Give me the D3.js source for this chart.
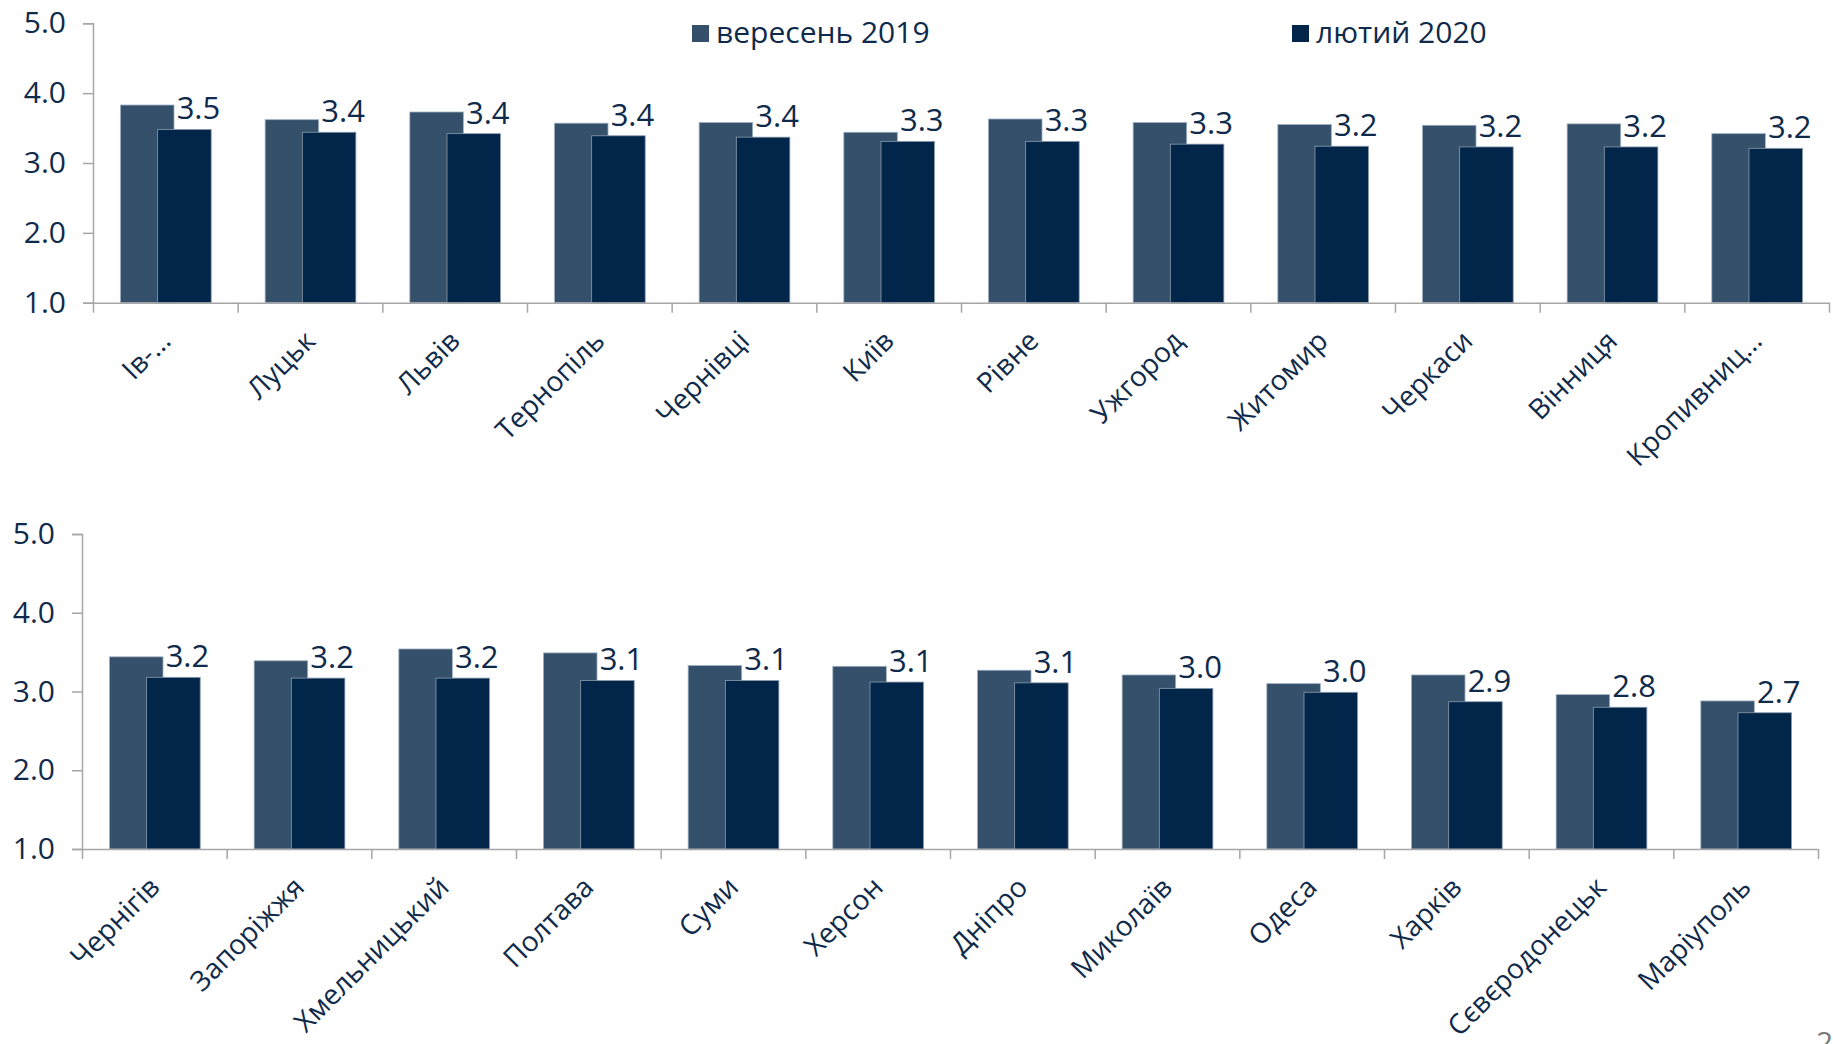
<!DOCTYPE html>
<html>
<head>
<meta charset="utf-8">
<script src="https://cdn.jsdelivr.net/npm/d3@7"></script>
<style>
  html, body { margin: 0; padding: 0; background: #ffffff; }
  svg { display: block; font-family: "Open Sans", "Noto Sans", Arial, sans-serif; }
</style>
</head>
<body>
<svg id="chart" width="1833" height="1044"></svg>
<script>
// ---------- data ----------
const seriesNames = ["вересень 2019", "лютий 2020"];
const yTickValues = [1, 2, 3, 4, 5];

const categoriesTop = ["Ів-…", "Луцьк", "Львів", "Тернопіль", "Чернівці", "Київ", "Рівне", "Ужгород", "Житомир", "Черкаси", "Вінниця", "Кропивниц…"];
const sep2019Top = [3.83, 3.62, 3.73, 3.57, 3.58, 3.44, 3.63, 3.58, 3.55, 3.54, 3.56, 3.42];
const feb2020Top = [3.48, 3.44, 3.42, 3.39, 3.37, 3.31, 3.31, 3.27, 3.24, 3.23, 3.23, 3.21];

const categoriesBottom = ["Чернігів", "Запоріжжя", "Хмельницький", "Полтава", "Суми", "Херсон", "Дніпро", "Миколаїв", "Одеса", "Харків", "Сєвєродонецьк", "Маріуполь"];
const sep2019Bottom = [3.44, 3.39, 3.54, 3.49, 3.33, 3.32, 3.27, 3.21, 3.10, 3.21, 2.96, 2.88];
const feb2020Bottom = [3.18, 3.17, 3.17, 3.14, 3.14, 3.12, 3.11, 3.04, 2.99, 2.87, 2.80, 2.73];

// ---------- style ----------
const colLight = "#34506b";
const colDark = "#01264a";
const textCol = "#0f2a4b";
const axisCol = "#a6a6a6";
const fmt = d3.format(".1f");

const svg = d3.select("#chart");
svg.append("rect").attr("width", 1833).attr("height", 1044).attr("fill", "#fff");

function drawPanel(cfg) {
  const { cats, a, b, x0, x1, yTop, yBot } = cfg;
  const x = d3.scaleBand().domain(cats).range([x0, x1]).paddingInner(0).paddingOuter(0);
  const y = d3.scaleLinear().domain([1, 5]).range([yBot, yTop]);
  const bw = x.bandwidth();
  const g = svg.append("g");

  // bars
  const rows = cats.map((c, i) => ({ c, a: a[i], b: b[i] }));
  g.selectAll("rect.la").data(rows).join("rect")
    .attr("x", d => x(d.c) + bw * 0.19)
    .attr("width", bw * 0.37)
    .attr("y", d => y(d.a))
    .attr("height", d => y(1) - y(d.a))
    .attr("fill", colLight)
    .attr("stroke", "#9fb0c2").attr("stroke-width", 0.8);
  g.selectAll("rect.db").data(rows).join("rect")
    .attr("x", d => x(d.c) + bw * 0.447)
    .attr("width", bw * 0.37)
    .attr("y", d => y(d.b))
    .attr("height", d => y(1) - y(d.b))
    .attr("fill", colDark)
    .attr("stroke", "#8d9cae").attr("stroke-width", 0.8);

  // data labels
  g.selectAll("text.lbl").data(rows).join("text")
    .attr("x", d => x(d.c) + bw * 0.447 + bw * 0.185 + 14)
    .attr("y", d => y(d.b) - 10)
    .attr("text-anchor", "middle")
    .attr("font-size", 31)
    .attr("fill", textCol)
    .text(d => fmt(d.b));

  // y axis
  const ya = g.append("g").attr("transform", `translate(${x0},0)`)
    .call(d3.axisLeft(y).tickValues(yTickValues).tickFormat(fmt).tickSize(10).tickPadding(17));
  ya.selectAll("path, line").attr("stroke", axisCol).attr("stroke-width", 1.5);
  ya.selectAll("text").attr("font-size", 30).attr("fill", textCol)
    .attr("font-family", "'Open Sans', 'Noto Sans', Arial, sans-serif");

  // x axis: baseline and boundary ticks
  const bounds = cats.map(c => x(c)).concat([x.range()[1]]);
  const edge = d3.scaleLinear().domain([x0, x1]).range([x0, x1]);
  const xa = g.append("g").attr("transform", `translate(0,${y(1)})`)
    .call(d3.axisBottom(edge).tickValues(bounds).tickSize(10).tickSizeOuter(0).tickFormat(""));
  xa.selectAll("path, line").attr("stroke", axisCol).attr("stroke-width", 1.5);

  // category labels
  g.selectAll("text.cat").data(cats).join("text")
    .attr("transform", c => `translate(${x(c) + bw / 2 + 7},${y(1) + 40}) rotate(-45)`)
    .attr("text-anchor", "end")
    .attr("font-size", 28)
    .attr("fill", textCol)
    .text(c => c);
}

drawPanel({ cats: categoriesTop, a: sep2019Top, b: feb2020Top, x0: 93, x1: 1829, yTop: 23.3, yBot: 302.7 });
drawPanel({ cats: categoriesBottom, a: sep2019Bottom, b: feb2020Bottom, x0: 82, x1: 1818, yTop: 534, yBot: 849 });

// legend
const legendX = [692, 1292];
const legendColors = [colLight, colDark];
const lg = svg.append("g");
seriesNames.forEach((name, i) => {
  lg.append("rect").attr("x", legendX[i]).attr("y", 25).attr("width", 17).attr("height", 17).attr("fill", legendColors[i]);
  lg.append("text").attr("x", legendX[i] + 24).attr("y", 43).attr("font-size", 30).attr("fill", textCol).text(name);
});

// page number (partly below the bottom edge, as in the source)
svg.append("text").attr("x", 1816).attr("y", 1053).attr("font-size", 30).attr("fill", "#7a7a7a").text("2");
</script>
</body>
</html>
